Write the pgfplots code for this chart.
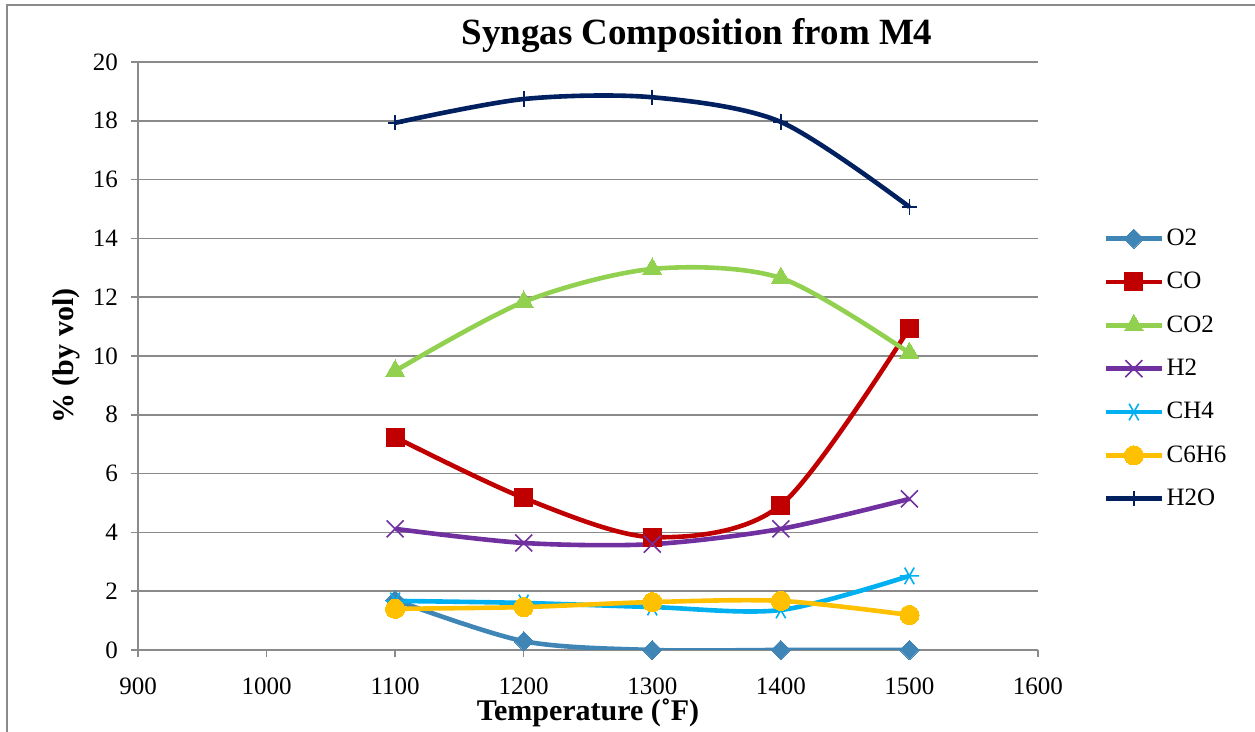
\documentclass[border=0pt]{standalone}
\usepackage{fontspec}
\setmainfont{Liberation Serif}
\usepackage{pgfplots}
\pgfplotsset{compat=1.18}

\definecolor{cO2}{HTML}{3F86B6}
\definecolor{cCO}{HTML}{C00000}
\definecolor{cCOtwo}{HTML}{92D050}
\definecolor{cH2}{HTML}{7030A0}
\definecolor{cCH4}{HTML}{00B0F0}
\definecolor{cC6H6}{HTML}{FFC000}
\definecolor{cH2O}{HTML}{002060}
\definecolor{gridgray}{HTML}{8A8A8A}

\begin{document}
\begin{tikzpicture}
\useasboundingbox (0,0) rectangle (627.5pt,366pt);
% outer chart frame (top and left edges)
\draw[gridgray, line width=0.75pt] (3.5pt,0pt) -- (3.5pt,363.5pt) -- (627.5pt,363.5pt);
\node[font=\bfseries\fontsize{18.5}{20}\selectfont] at (348.5pt,348pt) {Syngas Composition from M4};

\begin{axis}[
  at={(69pt,41pt)}, anchor=south west,
  scale only axis, width=450pt, height=294pt,
  xmin=900, xmax=1600, ymin=0, ymax=20,
  xtick={900,1000,...,1600}, ytick={0,2,...,20},
  axis x line*=bottom, axis y line*=left,
  axis line style={gridgray, line width=0.75pt},
  tick style={gridgray, line width=0.75pt},
  tick align=outside, major tick length=3.5pt,
  ymajorgrids, grid style={gridgray, line width=0.75pt},
  /pgf/number format/assume math mode=true,
  /pgf/number format/set thousands separator={},
  tick label style={font=\fontsize{12.5}{14}\selectfont},
  xticklabel style={yshift=-7pt},
  yticklabel style={xshift=-3pt},
  xlabel={Temperature (˚F)},
  ylabel={\% (by vol)},
  label style={font=\bfseries\fontsize{15}{17}\selectfont},
  xlabel style={at={(axis description cs:0.5,-0.107)}, anchor=center},
  ylabel style={at={(axis description cs:-0.08,0.5)}, anchor=center},
  every axis plot/.append style={line width=2.3pt, smooth},
  legend style={at={(axis description cs:1.073,0.722)}, anchor=north west,
    draw=none, fill=none, font=\fontsize{12.5}{14}\selectfont,
    row sep=8.9pt, inner sep=0pt,
    nodes={inner sep=1.5pt, anchor=west}},
  legend cell align=left,
  legend image code/.code={\draw[mark repeat=2,mark phase=2] plot coordinates {(0pt,0pt)(13.75pt,0pt)(27.5pt,0pt)};},
]
\addplot[cO2, mark=square*, mark size=3.4pt, mark options={rotate=45, solid, line width=0pt}]
  coordinates {(1100,1.70)(1200,0.30)(1300,0.00)(1400,0.00)(1500,0.00)};
\addlegendentry{O2}
\addplot[cCO, mark=square*, mark size=4.5pt, mark options={solid, line width=0pt}]
  coordinates {(1100,7.24)(1200,5.17)(1300,3.84)(1400,4.93)(1500,10.95)};
\addlegendentry{CO}
\addplot[cCOtwo, mark=triangle*, mark size=5.5pt, mark options={solid, line width=0pt}]
  coordinates {(1100,9.49)(1200,11.84)(1300,12.96)(1400,12.65)(1500,10.10)};
\addlegendentry{CO2}
\addplot[cH2, mark=x, mark size=6pt, mark options={solid, line width=0.8pt}]
  coordinates {(1100,4.12)(1200,3.64)(1300,3.60)(1400,4.12)(1500,5.14)};
\addlegendentry{H2}
\addplot[cCH4, mark=asterisk, mark size=4.8pt, mark options={rotate=90, solid, line width=0.8pt}]
  coordinates {(1100,1.67)(1200,1.60)(1300,1.46)(1400,1.36)(1500,2.52)};
\addlegendentry{CH4}
\addplot[cC6H6, mark=*, mark size=4.8pt, mark options={solid, line width=0pt}]
  coordinates {(1100,1.40)(1200,1.46)(1300,1.63)(1400,1.67)(1500,1.19)};
\addlegendentry{C6H6}
\addplot[cH2O, mark=+, mark size=3.8pt, mark options={solid, line width=0.8pt}]
  coordinates {(1100,17.93)(1200,18.74)(1300,18.80)(1400,17.96)(1500,15.07)};
\addlegendentry{H2O}
\end{axis}
\end{tikzpicture}
\end{document}
